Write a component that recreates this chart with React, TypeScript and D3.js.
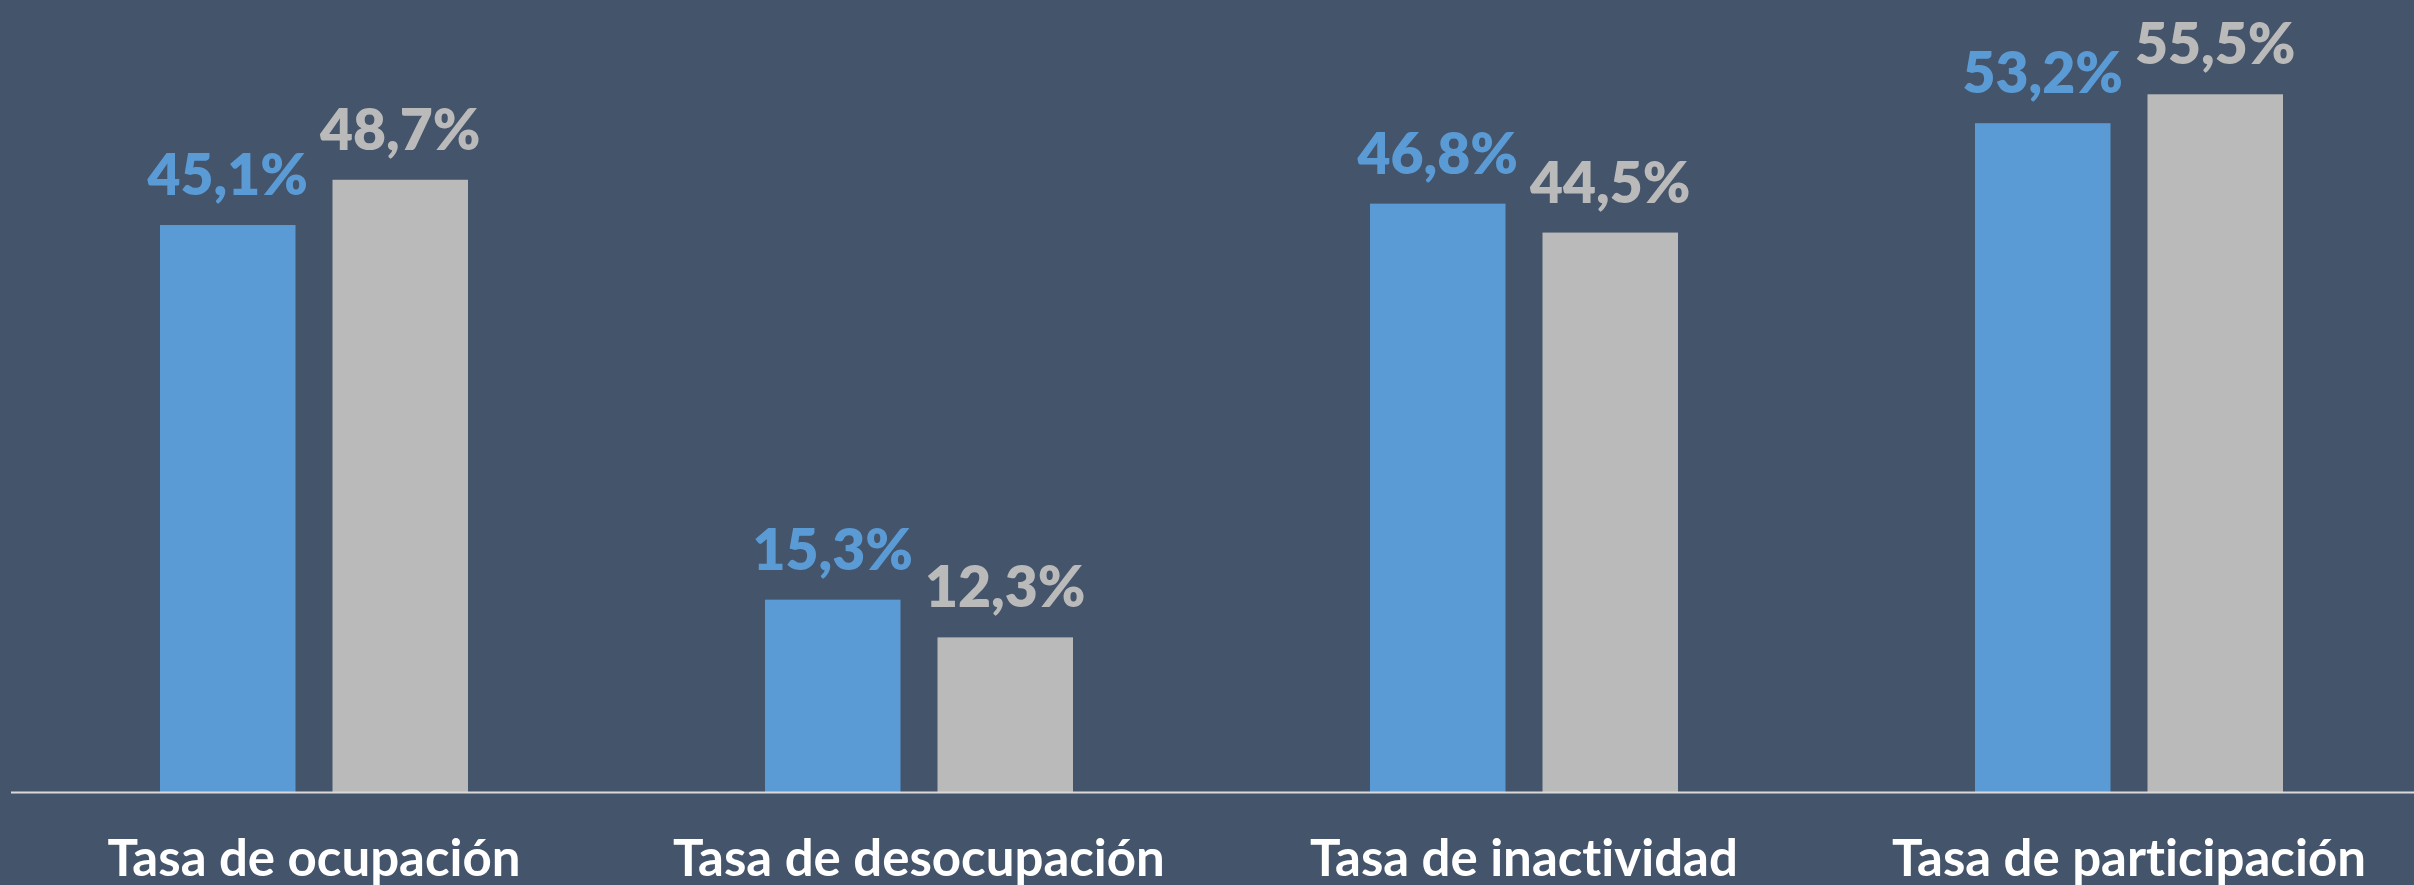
import React from "react";
import * as d3 from "d3";

const categories = ["Tasa de ocupación", "Tasa de desocupación", "Tasa de inactividad", "Tasa de participación"];
const seriesKeys = ["a", "b"];
const seriesA = [45.1, 15.3, 46.8, 53.2];
const seriesB = [48.7, 12.3, 44.5, 55.5];
const valueLabelsA = ["45,1%", "15,3%", "46,8%", "53,2%"];
const valueLabelsB = ["48,7%", "12,3%", "44,5%", "55,5%"];

const W = 2414;
const H = 885;
const BG = "#44546A";
const BLUE = "#5B9BD5";
const GRAY = "#BABABA";
const FONT = "Lato, 'Open Sans', sans-serif";

export default function App() {
  const baseY = 792;
  const x0 = d3.scaleBand<string>().domain(categories).range([11.5, 2431.5]).paddingInner(0).paddingOuter(0);
  const bw = x0.bandwidth();
  const x1 = d3.scaleBand<string>().domain(seriesKeys).range([148.5, bw - 148.5]).paddingInner(37 / 308 * 2 / (1 + 37 / 308)).paddingOuter(0);
  const y = d3.scaleLinear().domain([0, 63]).range([baseY, 0]);

  const series = [
    { key: "a", values: seriesA, labels: valueLabelsA, color: BLUE },
    { key: "b", values: seriesB, labels: valueLabelsB, color: GRAY },
  ];

  return (
    <svg width={W} height={H} style={{ position: "absolute", left: 0, top: 0, display: "block", fontVariantLigatures: "none" }}>
      <rect x={0} y={0} width={W} height={H} fill={BG} />
      {categories.map((c, i) => (
        <g key={c} transform={`translate(${x0(c)},0)`}>
          {series.map((s) => {
            const bx = x1(s.key) as number;
            const vy = y(s.values[i]);
            return (
              <g key={s.key}>
                <rect x={bx} y={vy} width={x1.bandwidth()} height={baseY - vy} fill={s.color} />
                <text
                  x={bx + x1.bandwidth() / 2}
                  y={vy - 30}
                  textAnchor="middle"
                  fill={s.color}
                  fontFamily={FONT}
                  fontWeight={800}
                  fontSize={57}
                >
                  {s.labels[i]}
                </text>
              </g>
            );
          })}
          <text
            x={bw / 2}
            y={876}
            textAnchor="middle"
            fill="#FFFFFF"
            fontFamily={FONT}
            fontWeight={700}
            fontSize={51}
            style={{ fontVariantLigatures: "none" }}
          >
            {c}
          </text>
        </g>
      ))}
      <line x1={11} x2={W} y1={baseY + 0.5} y2={baseY + 0.5} stroke="#D9D9D9" strokeWidth={2} />
    </svg>
  );
}
